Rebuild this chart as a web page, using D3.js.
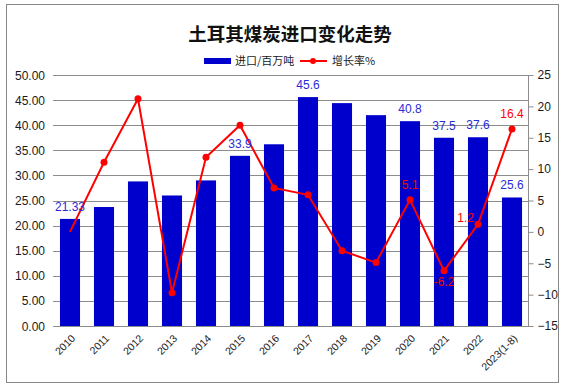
<!DOCTYPE html>
<html>
<head>
<meta charset="utf-8">
<script src="https://cdn.jsdelivr.net/npm/d3@7.9.0/dist/d3.min.js"></script>
<style>
  body { margin: 0; background: #fff; }
  svg { display: block; font-family: "Liberation Sans", "Noto Sans CJK SC", sans-serif; }
</style>
</head>
<body>
<svg id="chart" width="566" height="389"></svg>
<script>
// chart data
const years = ['2010', '2011', '2012', '2013', '2014', '2015', '2016', '2017', '2018', '2019', '2020', '2021', '2022', '2023(1-8)'];
const imports = [21.33, 23.7, 28.8, 26.0, 29.0, 33.9, 36.2, 45.6, 44.4, 42.0, 40.8, 37.5, 37.6, 25.6];
const growth = [0, 11.1, 21.2, -9.7, 11.9, 17.0, 7.0, 5.9, -3.0, -4.9, 5.1, -6.2, 1.2, 16.4];
const leftTicks = [0, 5, 10, 15, 20, 25, 30, 35, 40, 45, 50];
const rightTicks = [-15, -10, -5, 0, 5, 10, 15, 20, 25];

// which points get a value label
const barLabels = { '2010': '21.33', '2015': '33.9', '2017': '45.6', '2020': '40.8', '2021': '37.5', '2022': '37.6', '2023(1-8)': '25.6' };
const lineLabels = { '2020': 'above', '2021': 'below', '2022': 'left', '2023(1-8)': 'above' };

const svg = d3.select('#chart');

// outer frame
svg.append('rect')
    .attr('x', 6.5).attr('y', 4.5)
    .attr('width', 552).attr('height', 378)
    .attr('fill', '#fff')
    .attr('stroke', '#888');

const x = d3.scaleBand()
    .domain(years)
    .range([53, 529])
    .paddingInner(0.41)
    .paddingOuter(0.205);

const yLeft = d3.scaleLinear().domain([0, 50]).range([326, 75]);
const yRight = d3.scaleLinear().domain([-15, 25]).range([326, 75]);

// gridlines
svg.append('g')
    .selectAll('line')
    .data(leftTicks)
    .join('line')
    .attr('x1', 53).attr('x2', 529)
    .attr('y1', d => Math.round(yLeft(d)) + 0.5)
    .attr('y2', d => Math.round(yLeft(d)) + 0.5)
    .attr('stroke', '#8c8c8c')
    .attr('stroke-width', 1);

// left axis labels
svg.append('g')
    .selectAll('text')
    .data(leftTicks)
    .join('text')
    .attr('x', 45)
    .attr('y', d => yLeft(d) + 4.5)
    .attr('text-anchor', 'end')
    .attr('font-size', 12)
    .attr('fill', '#1a1a1a')
    .text(d => d.toFixed(2));

// right axis
const rightAxis = d3.axisRight(yRight)
    .tickValues(rightTicks)
    .tickSize(5)
    .tickPadding(4);

const ra = svg.append('g')
    .attr('transform', 'translate(528.5,0)')
    .call(rightAxis);
ra.select('.domain').attr('stroke', '#8c8c8c').attr('d', 'M0,75V326.5');
ra.selectAll('.tick line').attr('stroke', '#8c8c8c');
ra.selectAll('.tick text')
    .attr('font-size', 12)
    .attr('font-family', '"Liberation Sans", sans-serif')
    .attr('fill', '#1a1a1a');

// bars
svg.append('g')
    .selectAll('rect')
    .data(years)
    .join('rect')
    .attr('x', d => x(d))
    .attr('y', (d, i) => yLeft(imports[i]))
    .attr('width', x.bandwidth())
    .attr('height', (d, i) => yLeft(0) - yLeft(imports[i]))
    .attr('fill', '#0000cc');

// x category labels, rotated
svg.append('g')
    .selectAll('text')
    .data(years)
    .join('text')
    .attr('transform', d => `translate(${x(d) + x.bandwidth() / 2 + 6},339) rotate(-45)`)
    .attr('text-anchor', 'end')
    .attr('font-size', 10.5)
    .attr('fill', '#1a1a1a')
    .text(d => d);

// growth line
const cx = d => x(d) + x.bandwidth() / 2;
const line = d3.line()
    .x((d, i) => cx(years[i]))
    .y(d => yRight(d));

svg.append('path')
    .datum(growth)
    .attr('d', line)
    .attr('fill', 'none')
    .attr('stroke', '#ff0000')
    .attr('stroke-width', 2);

svg.append('g')
    .selectAll('circle')
    .data(growth.slice(1))
    .join('circle')
    .attr('cx', (d, i) => cx(years[i + 1]))
    .attr('cy', d => yRight(d))
    .attr('r', 3.5)
    .attr('fill', '#ff0000');

// bar value labels
svg.append('g')
    .selectAll('text')
    .data(years.filter(d => barLabels[d]))
    .join('text')
    .attr('x', d => cx(d))
    .attr('y', d => yLeft(imports[years.indexOf(d)]) - 8)
    .attr('text-anchor', 'middle')
    .attr('font-size', 12)
    .attr('fill', '#2b2bd6')
    .text(d => barLabels[d]);

// growth value labels
svg.append('g')
    .selectAll('text')
    .data(years.filter(d => lineLabels[d]))
    .join('text')
    .attr('x', d => lineLabels[d] === 'left' ? cx(d) - 4 : cx(d))
    .attr('y', d => {
        const py = yRight(growth[years.indexOf(d)]);
        if (lineLabels[d] === 'below') return py + 15;
        if (lineLabels[d] === 'left') return py - 2;
        return py - 11;
    })
    .attr('text-anchor', d => lineLabels[d] === 'left' ? 'end' : 'middle')
    .attr('font-size', 12)
    .attr('fill', '#ff0000')
    .text(d => growth[years.indexOf(d)]);

// title
svg.append('text')
    .attr('x', 290)
    .attr('y', 41)
    .attr('text-anchor', 'middle')
    .attr('font-family', '"Noto Sans CJK SC", sans-serif')
    .attr('font-weight', 'bold')
    .attr('font-size', 18.5)
    .attr('fill', '#111')
    .text('土耳其煤炭进口变化走势');

// legend
const legend = svg.append('g').attr('font-family', '"Noto Sans CJK SC", sans-serif').attr('font-size', 11);
legend.append('rect')
    .attr('x', 204).attr('y', 58)
    .attr('width', 27).attr('height', 6)
    .attr('fill', '#0000cc');
legend.append('text')
    .attr('x', 235).attr('y', 65)
    .attr('fill', '#1a1a1a')
    .text('进口/百万吨');
legend.append('line')
    .attr('x1', 300).attr('x2', 327)
    .attr('y1', 61).attr('y2', 61)
    .attr('stroke', '#ff0000').attr('stroke-width', 2);
legend.append('circle')
    .attr('cx', 313).attr('cy', 61).attr('r', 3)
    .attr('fill', '#ff0000');
legend.append('text')
    .attr('x', 332).attr('y', 65)
    .attr('fill', '#1a1a1a')
    .text('增长率%');
</script>
</body>
</html>
